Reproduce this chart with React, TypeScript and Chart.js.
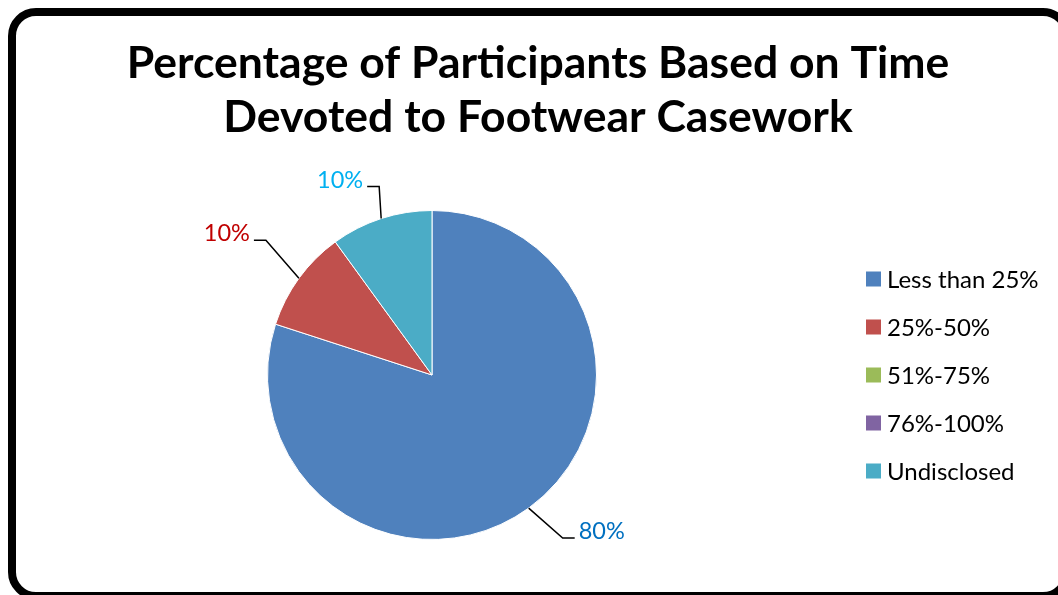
import React, { useEffect, useRef } from "react";
import { Chart, registerables } from "chart.js";

Chart.register(...registerables);

const categories = ["Less than 25%", "25%-50%", "51%-75%", "76%-100%", "Undisclosed"];
const percentages = [80, 10, 0, 0, 10];
const sliceColors = ["#4F81BD", "#C0504D", "#9BBB59", "#8064A2", "#4BACC6"];
const labelColors = ["#0070C0", "#C00000", "#77933C", "#5F497A", "#00B0F0"];
const titleLines = ["Percentage of Participants Based on Time", "Devoted to Footwear Casework"];

const FONT = "Lato, 'Open Sans', 'Liberation Sans', sans-serif";

const leaderLabels = {
  id: "leaderLabels",
  afterDatasetsDraw(chart: any, _args: any, opts: any) {
    const ctx = chart.ctx;
    const meta = chart.getDatasetMeta(0);
    const values = chart.data.datasets[0].data as number[];
    const total = values.reduce((a, b) => a + b, 0);
    meta.data.forEach((arc: any, i: number) => {
      const v = values[i];
      const L = opts.leaders[i];
      if (!v || !L) return;
      const p = arc.getProps(["x", "y", "startAngle", "endAngle", "outerRadius"], true);
      const mid = (p.startAngle + p.endAngle) / 2;
      const ex = p.x + p.outerRadius * Math.cos(mid);
      const ey = p.y + p.outerRadius * Math.sin(mid);
      const bx = ex + L.dx;
      const by = ey + L.dy;
      const hx = bx + L.side * 12;
      ctx.save();
      ctx.strokeStyle = "#000";
      ctx.lineWidth = 1.5;
      ctx.beginPath();
      ctx.moveTo(ex, ey);
      ctx.lineTo(bx, by);
      ctx.lineTo(hx, by);
      ctx.stroke();
      ctx.fillStyle = labelColors[i];
      ctx.font = `23.5px ${FONT}`;
      ctx.textBaseline = "alphabetic";
      ctx.textAlign = L.side > 0 ? "left" : "right";
      ctx.fillText(Math.round((v / total) * 100) + "%", hx + L.side * 4, by + 1);
      ctx.restore();
    });
  },
};

const sideLegend = {
  id: "sideLegend",
  afterDraw(chart: any, _args: any, opts: any) {
    const ctx = chart.ctx;
    const area = chart.chartArea;
    const labels = chart.data.labels as string[];
    const colors = chart.data.datasets[0].backgroundColor as string[];
    const cy = (area.top + area.bottom) / 2;
    const n = labels.length;
    ctx.save();
    ctx.font = `24px ${FONT}`;
    ctx.textBaseline = "middle";
    ctx.textAlign = "left";
    labels.forEach((label, i) => {
      const y = cy + (i - (n - 1) / 2) * opts.spacing;
      ctx.fillStyle = colors[i];
      ctx.fillRect(opts.x, y - opts.box / 2, opts.box, opts.box);
      ctx.fillStyle = "#000";
      ctx.fillText(label, opts.x + opts.box + opts.gap, y + 1);
    });
    ctx.restore();
  },
};

const headline = {
  id: "headline",
  afterDraw(chart: any, _args: any, opts: any) {
    const ctx = chart.ctx;
    ctx.save();
    ctx.font = `bold ${opts.size}px ${FONT}`;
    ctx.fillStyle = "#000";
    ctx.textAlign = "center";
    ctx.textBaseline = "alphabetic";
    (opts.lines as string[]).forEach((line, i) => {
      ctx.fillText(line, opts.x, opts.y + i * opts.lineHeight);
    });
    ctx.restore();
  },
};

export default function App() {
  const ref = useRef<HTMLCanvasElement>(null);
  useEffect(() => {
    if (!ref.current) return;
    const chart = new Chart(ref.current, {
      type: "pie",
      data: {
        labels: categories,
        datasets: [
          {
            data: percentages,
            backgroundColor: sliceColors,
            borderColor: "#ffffff",
            borderWidth: 1,
          },
        ],
      },
      options: {
        responsive: false,
        animation: false,
        layout: { padding: { left: 16, right: 218, top: 202, bottom: 55 } },
        plugins: {
          title: { display: false },
          legend: { display: false },
          tooltip: { enabled: false },
          headline: { lines: titleLines, x: 530, y: 70, lineHeight: 54, size: 44.5 },
          leaderLabels: {
            leaders: [
              { dx: 34, dy: 30, side: 1 },
              { dx: -33, dy: -38, side: -1 },
              null,
              null,
              { dx: -2, dy: -32, side: -1 },
            ],
          },
          sideLegend: { x: 858, box: 15, gap: 6, spacing: 48 },
        } as any,
      },
      plugins: [leaderLabels, sideLegend, headline],
    });
    return () => chart.destroy();
  }, []);

  return (
    <div
      style={{
        position: "fixed",
        left: 8,
        top: 8,
        width: 1050,
        height: 587,
        overflow: "hidden",
        background: "#fff",
      }}
    >
      <div
        style={{
          position: "absolute",
          left: 0,
          top: 0,
          width: 1063,
          height: 592,
          border: "8px solid #000",
          borderRadius: 28,
          boxSizing: "border-box",
        }}
      />
      <canvas ref={ref} width={1050} height={587} style={{ position: "absolute", left: 0, top: 0 }} />
    </div>
  );
}
